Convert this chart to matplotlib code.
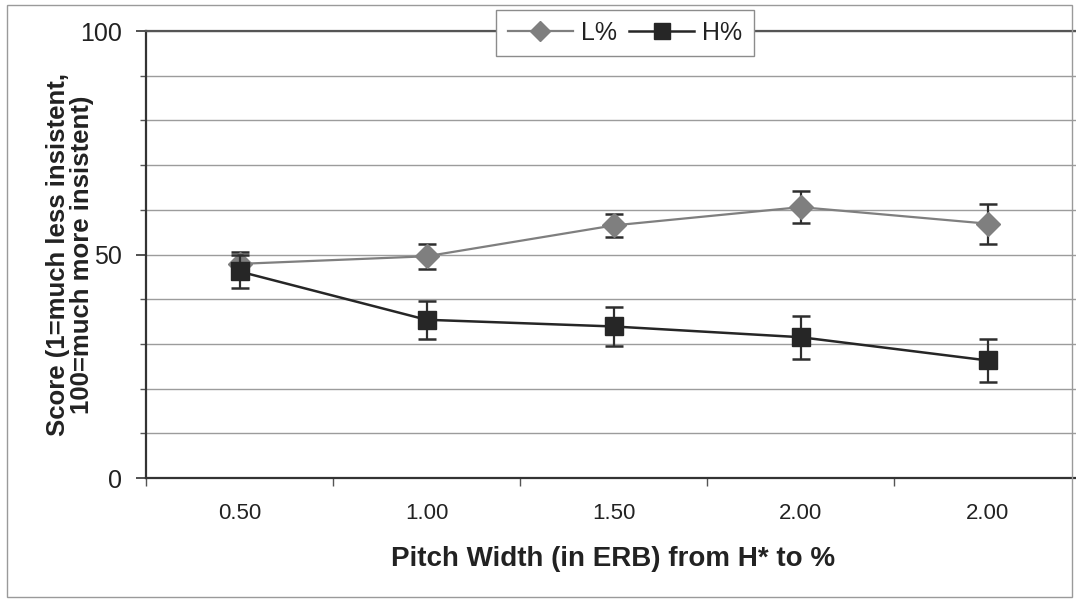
import matplotlib
matplotlib.use("Agg")
import matplotlib.pyplot as plt
from matplotlib.patches import Rectangle
from matplotlib.lines import Line2D
from matplotlib.ticker import FixedLocator, MultipleLocator, NullFormatter
import numpy as np

# Pitch width categories (ERB) and mean insistence scores with error bars
categories = ["0.50", "1.00", "1.50", "2.00", "2.00"]
l_scores = [47.9, 49.6, 56.5, 60.6, 56.9]
l_errors = [2.6, 2.75, 2.6, 3.65, 4.45]
h_scores = [46.2, 35.4, 33.9, 31.5, 26.3]
h_errors = [3.6, 4.2, 4.4, 4.85, 4.75]
y_ticks = [0, 50, 100]

W, H = 1076, 604
fig = plt.figure(figsize=(W / 100, H / 100), dpi=100)
fig.patch.set_facecolor("white")

# chart-area border
fig.patches.append(Rectangle((7 / W, 1 - 597 / H), (1072 - 7) / W, (597 - 5) / H,
                             transform=fig.transFigure, fill=False,
                             edgecolor="#9a9a9a", linewidth=1.0, zorder=0))

left, right, bottom, top = 146, 1081, 478, 31
ax = fig.add_axes([left / W, 1 - bottom / H, (right - left) / W, (bottom - top) / H])
ax.set_facecolor("white")

x = np.arange(len(categories))
ax.set_xlim(-0.5, len(categories) - 0.5)
ax.set_ylim(0, 100)

# horizontal gridlines every 10
ax.yaxis.set_major_locator(FixedLocator(y_ticks))
ax.yaxis.set_minor_locator(MultipleLocator(10))
ax.yaxis.set_minor_formatter(NullFormatter())
ax.grid(True, which="both", axis="y", color="#9c9c9c", linewidth=1.0, zorder=0)
ax.set_axisbelow(True)

L_COLOR = "#7f7f7f"
H_COLOR = "#262626"
ERR_COLOR = "#2e2e2e"

# L% series
ax.errorbar(x, l_scores, yerr=l_errors, color=L_COLOR, marker="D", markersize=12,
            markerfacecolor=L_COLOR, markeredgecolor=L_COLOR, linewidth=1.6,
            ecolor=ERR_COLOR, elinewidth=1.6, capsize=6.5, capthick=1.8, zorder=3)
# H% series
ax.errorbar(x, h_scores, yerr=h_errors, color=H_COLOR, marker="s", markersize=13,
            markerfacecolor=H_COLOR, markeredgecolor=H_COLOR, linewidth=1.8,
            ecolor=ERR_COLOR, elinewidth=1.6, capsize=6.5, capthick=1.8, zorder=4)

# axes styling
for side in ["left", "bottom"]:
    ax.spines[side].set_color("#333333")
    ax.spines[side].set_linewidth(1.6)
ax.spines["top"].set_color("#555555")
ax.spines["top"].set_linewidth(1.6)
ax.spines["right"].set_visible(False)

ax.tick_params(axis="y", which="major", direction="out", length=7, width=1.2,
               color="#333333", labelsize=18, pad=10, labelcolor="#222222")
ax.tick_params(axis="y", which="minor", direction="out", length=4, width=1.0,
               color="#555555")
for lab in ax.get_yticklabels():
    lab.set_fontfamily("Liberation Sans")

# category labels centred, tick marks between categories
ax.set_xticks(x)
ax.set_xticklabels(categories, fontfamily="Liberation Sans", fontsize=16,
                   color="#222222")
ax.tick_params(axis="x", which="major", length=0, pad=18)
ax.xaxis.set_minor_locator(FixedLocator(np.arange(-0.5, len(categories), 1.0)))
ax.tick_params(axis="x", which="minor", direction="out", length=6, width=1.0,
               color="#555555")

ax.set_xlabel("Pitch Width (in ERB) from H* to %", fontfamily="Liberation Sans",
              fontweight="bold", fontsize=20, color="#222222", labelpad=16)
ax.set_ylabel("Score (1=much less insistent,\n100=much more insistent)",
              fontfamily="Liberation Sans", fontweight="bold", fontsize=18.5,
              color="#222222", linespacing=1.02)
# place the label block so its right edge sits at x = 94 px
ax.yaxis.set_label_coords((94 - left) / (right - left), 0.5)

handles = [
    Line2D([], [], color=L_COLOR, marker="D", markersize=10, linewidth=1.6,
           markerfacecolor=L_COLOR, markeredgecolor=L_COLOR),
    Line2D([], [], color=H_COLOR, marker="s", markersize=12, linewidth=1.8,
           markerfacecolor=H_COLOR, markeredgecolor=H_COLOR),
]
leg = ax.legend(handles, ["L%", "H%"], loc="center",
                bbox_to_anchor=((625 - left) / (right - left), (bottom - 33) / (bottom - top)),
                ncol=2, frameon=True, fancybox=False,
                prop={"family": "Liberation Sans", "size": 18},
                handlelength=2.6, columnspacing=0.5, handletextpad=0.32,
                borderpad=0.45, borderaxespad=0)
leg.get_frame().set_edgecolor("#8c8c8c")
leg.get_frame().set_linewidth(1.0)
leg.get_frame().set_facecolor("white")
leg.get_frame().set_alpha(1.0)
for t in leg.get_texts():
    t.set_color("#222222")
leg.set_zorder(10)

fig.savefig("out.png", dpi=100, facecolor="white")
